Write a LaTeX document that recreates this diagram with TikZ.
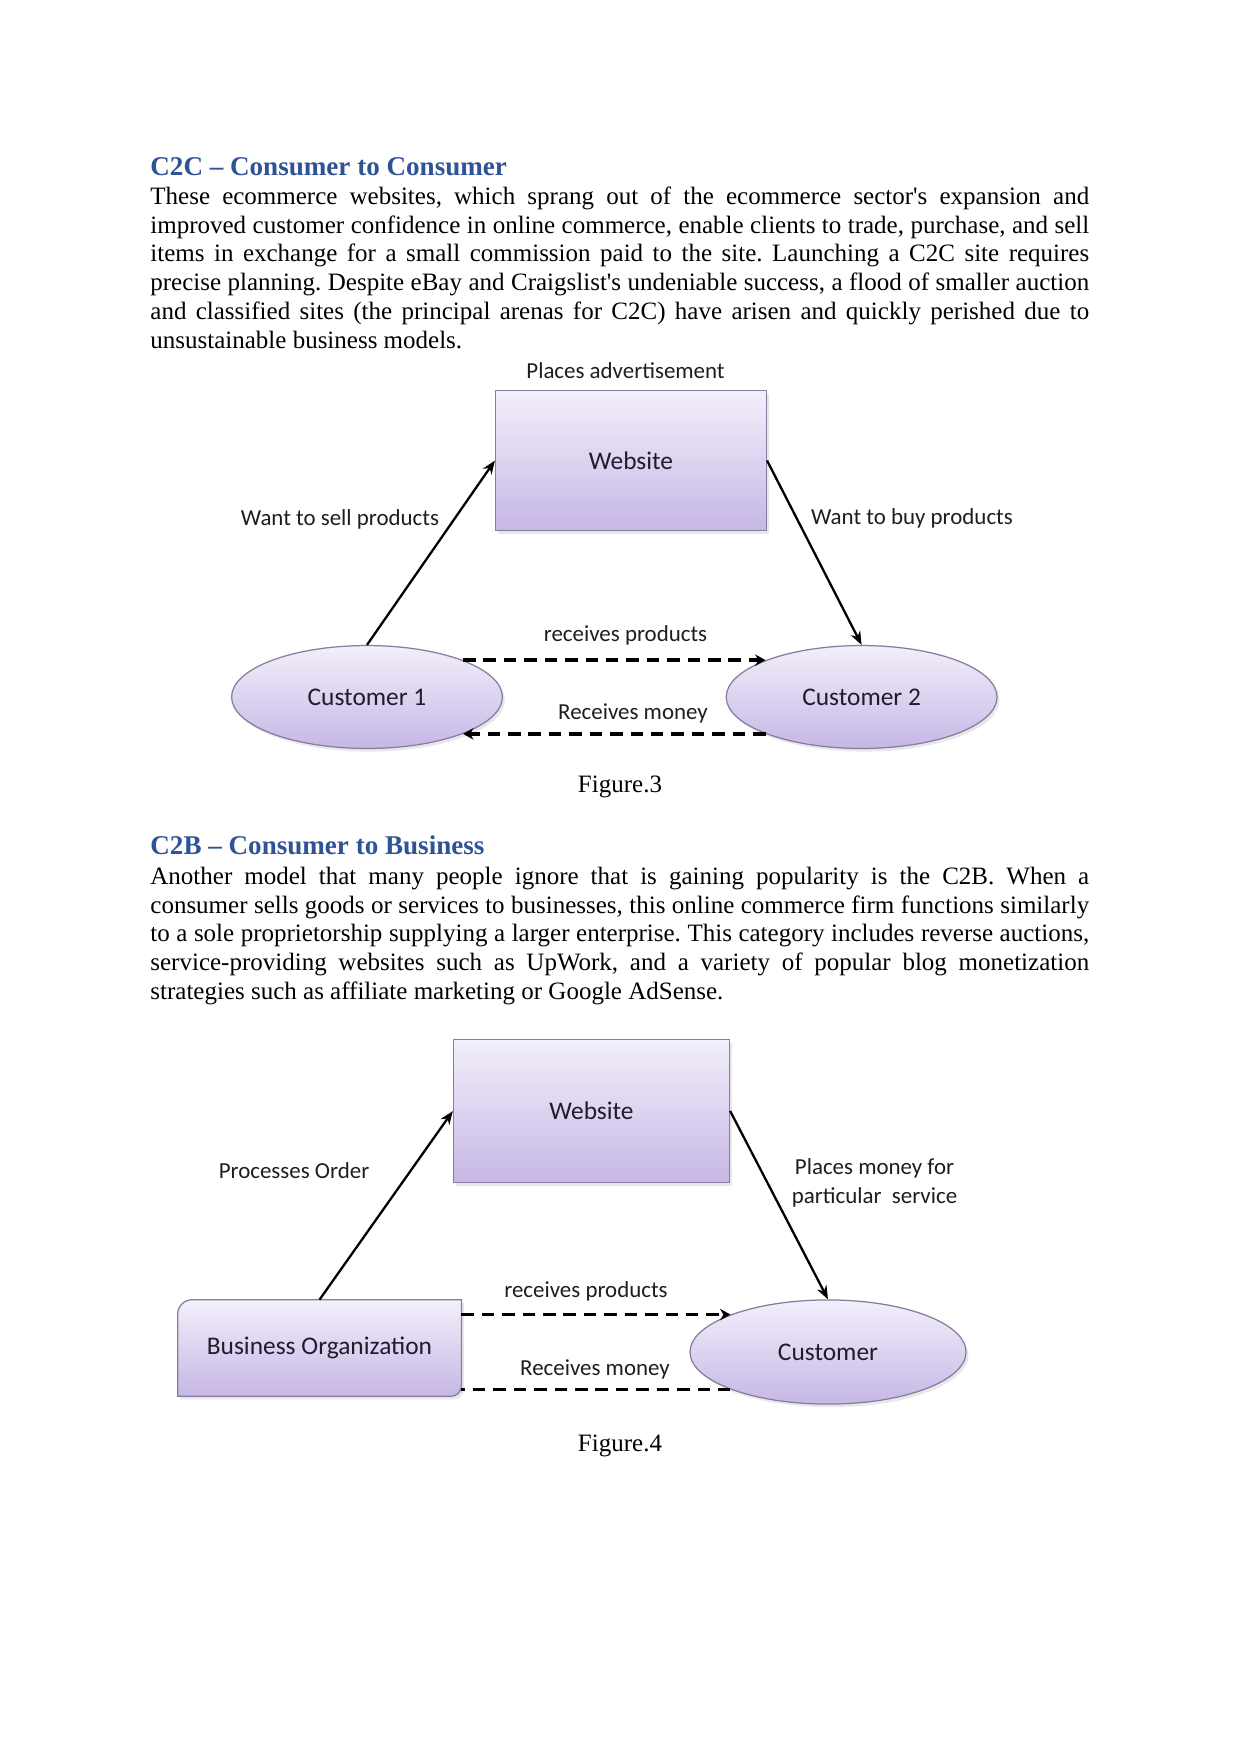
\documentclass[tikz,border=0pt]{standalone}
\usepackage{fontspec}
\setmainfont{Liberation Serif}
\newfontfamily\calib{Carlito}
\usetikzlibrary{shapes.geometric,arrows.meta,shadows}
\definecolor{headblue}{RGB}{47,84,150}
\definecolor{lavtop}{RGB}{243,239,251}
\definecolor{lavbot}{RGB}{198,183,229}
\definecolor{lavedge}{RGB}{135,125,160}
\definecolor{diagtext}{RGB}{30,30,30}
\definecolor{boxtext}{RGB}{32,28,48}
\newcommand{\jline}[1]{\makebox[450.6pt][s]{#1}}
\frenchspacing
\begin{document}
\begin{tikzpicture}[x=0.48pt,y=-0.48pt,
  bodyline/.style={anchor=base west, inner sep=0pt, font=\fontsize{12}{14}\selectfont\frenchspacing},
  headline/.style={anchor=base west, inner sep=0pt, font=\fontsize{13}{15}\selectfont\bfseries, text=headblue},
  captionline/.style={anchor=base, inner sep=0pt, font=\fontsize{12}{14}\selectfont},
  lav/.style={draw=lavedge, line width=0.6pt, top color=lavtop, bottom color=lavbot,
    drop shadow={opacity=0.18, shadow xshift=1.2pt, shadow yshift=-1.5pt}},
  webbox/.style={lav, rectangle, inner sep=0pt, font=\calib\fontsize{12.2}{14}\selectfont, text=boxtext},
  custell/.style={lav, ellipse, inner sep=0pt, font=\calib\fontsize{12.2}{14}\selectfont, text=boxtext},
  boxlabel/.style={inner sep=0pt, font=\calib\fontsize{12.2}{14}\selectfont, text=boxtext},
  lbl/.style={font=\calib\fontsize{11}{13.4}\selectfont, text=diagtext, inner sep=0pt, align=center},
  arr/.style={line width=1.1pt, -{Stealth[length=6.5pt,width=5pt]}},
  flowdash/.style={line width=1.6pt, dash pattern=on 6pt off 3.8pt},
  flowtip/.style={-{Stealth[length=5pt,width=5.5pt]}}
]
\fill[white] (0,0) rectangle (1241,1754);
\useasboundingbox (0,0) rectangle (1241,1754);

% ---------- C2C text ----------
\node[headline] (h1) at (150,175) {C2C – Consumer to Consumer};
\node[bodyline] (p1a) at (150,204.2) {\jline{These ecommerce websites, which sprang out of the ecommerce sector\textquotesingle s expansion and}};
\node[bodyline] (p1b) at (150,233.1) {\jline{improved customer confidence in online commerce, enable clients to trade, purchase, and sell}};
\node[bodyline] (p1c) at (150,261.9) {\jline{items in exchange for a small commission paid to the site. Launching a C2C site requires}};
\node[bodyline] (p1d) at (150,290.8) {\jline{precise planning. Despite eBay and Craigslist\textquotesingle s undeniable success, a flood of smaller auction}};
\node[bodyline] (p1e) at (150,319.7) {\jline{and classified sites (the principal arenas for C2C) have arisen and quickly perished due to}};
\node[bodyline] (p1f) at (150,348.6) {unsustainable business models.};

% ---------- Figure 3 ----------
\node[webbox, minimum width=130pt, minimum height=67.2pt] (web3) at (631,460.5) {Website};
\node[custell, minimum width=130pt, minimum height=49.4pt] (c1) at (367,697) {Customer 1};
\node[custell, minimum width=130pt, minimum height=49.4pt] (c2) at (861.6,697) {Customer 2};

\node[lbl] (l31) at (625.5,370.4) {Places advertisement};
\node[lbl] (l32) at (340,519) {Want to sell products};
\node[lbl] (l33) at (912,518) {Want to buy products};
\node[lbl] (l34) at (625.5,635.6) {receives products};
\node[lbl] (l35) at (633,713) {Receives money};

\draw[arr] (c1.north) -- (web3.west);
\draw[arr] (web3.east) -- (c2.north);
\draw[flowdash, flowtip] (c1.21) -- (c1.21 -| c2.159);
\draw[flowdash, flowtip] (c2.-159) -- (c2.-159 -| c1.-21);

\node[captionline] (cap3) at (620,792) {Figure.3};

% ---------- C2B text ----------
\node[headline] (h2) at (150,854) {C2B – Consumer to Business};
\node[bodyline] (p2a) at (150,884.2) {\jline{Another model that many people ignore that is gaining popularity is the C2B. When a}};
\node[bodyline] (p2b) at (150,913.1) {\jline{consumer sells goods or services to businesses, this online commerce firm functions similarly}};
\node[bodyline] (p2c) at (150,941.9) {\jline{to a sole proprietorship supplying a larger enterprise. This category includes reverse auctions,}};
\node[bodyline] (p2d) at (150,970.8) {\jline{service-providing websites such as UpWork, and a variety of popular blog monetization}};
\node[bodyline] (p2e) at (150,999.7) {strategies such as affiliate marketing or Google AdSense.};

% ---------- Figure 4 ----------
\node[webbox, minimum width=132.5pt, minimum height=68.6pt] (web4) at (591.5,1111) {Website};
\node[custell, minimum width=132.5pt, minimum height=50pt] (cu) at (828,1352) {Customer};
\node[draw=none, inner sep=0pt, minimum width=135.8pt, minimum height=46pt] (bo) at (319.5,1348) {};
\path[lav] ([yshift=-7pt]bo.north west) arc[start angle=180, end angle=90, radius=7pt]
  -- (bo.north east) -- ([yshift=5pt]bo.south east) arc[start angle=0, end angle=-90, radius=5pt]
  -- (bo.south west) -- cycle;
\node[boxlabel] (botext) at (bo.center) {Business Organization};

\node[lbl] (l41) at (294,1170.5) {Processes Order};
\node[lbl] (l42) at (874.5,1183) {Places money for\\[0.5pt]particular\ \ service};
\node[lbl] (l43) at (586,1291) {receives products};
\node[lbl] (l44) at (595,1369) {Receives money};

\draw[arr] (bo.north) -- (web4.west);
\draw[arr] (web4.east) -- (cu.north);
\draw[flowdash, flowtip] (bo.east |- cu.159) -- (cu.159);
\draw[flowdash] (cu.-159) -- (bo.east |- cu.-159);

\node[captionline] (cap4) at (620,1451) {Figure.4};
\end{tikzpicture}
\end{document}
